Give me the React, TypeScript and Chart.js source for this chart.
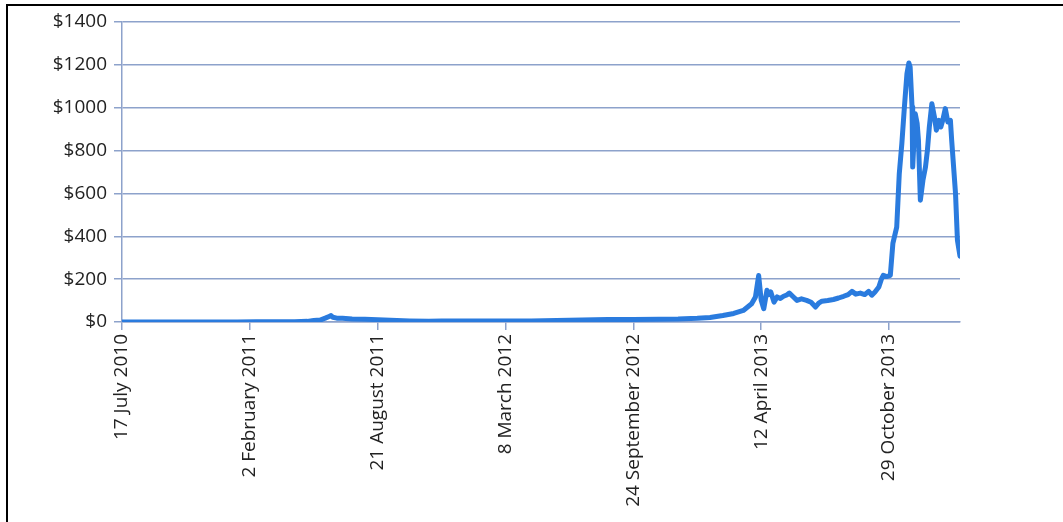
import React, { useEffect, useRef } from "react";
import { Chart, registerables } from "chart.js";

Chart.register(...registerables);

// Days since 17 July 2010 and price in USD
const days: number[] = [
  0, 60, 120, 180, 210, 240, 270, 290, 300, 310, 318, 324, 327, 330, 336, 345, 360, 380, 400, 420,
  450, 480, 500, 530, 560, 600, 640, 680, 720, 760, 800, 840, 870, 900, 920, 940, 957, 972, 985, 991,
  996, 1000, 1004, 1009, 1012, 1015, 1020, 1025, 1030, 1035, 1040, 1044, 1050, 1056, 1063, 1071, 1078,
  1085, 1090, 1095, 1104, 1113, 1121, 1129, 1136, 1142, 1148, 1155, 1162, 1168, 1173, 1178, 1184, 1188,
  1191, 1196, 1202, 1206, 1212, 1216, 1220, 1224, 1228, 1231, 1233, 1236, 1237, 1241, 1244,
  1246, 1249, 1253, 1257, 1260, 1263, 1267, 1271, 1274, 1278, 1281, 1284, 1288, 1292, 1296, 1298, 1304,
  1307, 1311,
];
const prices: number[] = [
  0.07, 0.1, 0.25, 0.3, 1, 0.9, 0.8, 3, 7, 9, 18, 26, 30, 22, 18, 17, 14, 13, 11, 8,
  5, 3, 4.5, 5, 5, 5, 5, 7, 9, 12, 12, 13, 14, 17, 21, 30, 40, 54, 85, 117,
  217, 101, 62, 148, 128, 140, 93, 117, 110, 120, 126, 135, 118, 101, 108, 101, 92,
  70, 88, 97, 100, 105, 112, 120, 128, 143, 130, 135, 128, 143, 125, 140, 163, 200,
  218, 212, 218, 367, 443, 692, 832, 1003, 1159, 1209, 1190, 1003, 723, 972, 926,
  848, 568, 661, 723, 801, 910, 1019, 957, 895, 941, 910, 941, 996, 933, 941, 848, 599,
  381, 307,
];

const tickDays: number[] = [0, 200, 400, 600, 800, 1000, 1200];
const tickLabels: string[] = [
  "17 July 2010",
  "2 February 2011",
  "21 August 2011",
  "8 March 2012",
  "24 September 2012",
  "12 April 2013",
  "29 October 2013",
];
const yTicks: number[] = [0, 200, 400, 600, 800, 1000, 1200, 1400];

const GRID = "#8DA2CB";
const FONT = { family: "'Open Sans', sans-serif", size: 19 };

export default function App() {
  const ref = useRef<HTMLCanvasElement>(null);
  useEffect(() => {
    if (!ref.current) return;
    const chart = new Chart(ref.current, {
      type: "line",
      data: {
        datasets: [
          {
            data: days.map((d, i) => ({ x: d, y: prices[i] })),
            borderColor: "#2A7BDE",
            borderWidth: 5,
            pointRadius: 0,
            tension: 0,
            fill: false,
            borderJoinStyle: "round",
            borderCapStyle: "round",
          },
        ],
      },
      options: {
        responsive: false,
        animation: false,
        layout: { padding: { left: 0, top: 22, right: 103, bottom: 0 } },
        plugins: { legend: { display: false }, tooltip: { enabled: false } },
        scales: {
          x: {
            type: "linear",
            min: 0,
            max: 1311,
            afterBuildTicks: (s: any) => {
              s.ticks = tickDays.map((v) => ({ value: v }));
            },
            afterFit: (s: any) => {
              s.height = 200;
            },
            grid: {
              display: true,
              drawOnChartArea: false,
              drawTicks: true,
              tickLength: 8,
              color: GRID,
              lineWidth: 1.5,
            },
            border: { display: true, color: GRID, width: 1.5 },
            ticks: {
              autoSkip: false,
              minRotation: 90,
              maxRotation: 90,
              padding: 4,
              color: "#222",
              font: FONT,
              callback: (v: any) => {
                const i = tickDays.indexOf(Number(v));
                return i >= 0 ? tickLabels[i] : "";
              },
            },
          },
          y: {
            min: 0,
            max: 1400,
            afterBuildTicks: (s: any) => {
              s.ticks = yTicks.map((v) => ({ value: v }));
            },
            afterFit: (s: any) => {
              s.width = 122;
            },
            grid: {
              color: GRID,
              lineWidth: 1.5,
              drawTicks: true,
              tickLength: 8,
            },
            border: { display: true, color: GRID, width: 1.5 },
            ticks: {
              padding: 7,
              color: "#222",
              font: FONT,
              callback: (v: any) => "$" + v,
            },
          },
        },
      },
    });
    return () => chart.destroy();
  }, []);
  return (
    <>
      <div
        style={{
          position: "fixed",
          left: 6,
          top: 4,
          width: 1057,
          height: 518,
          borderTop: "2px solid #000",
          borderLeft: "2px solid #000",
          boxSizing: "border-box",
        }}
      />
      <canvas
        ref={ref}
        width={1063}
        height={522}
        style={{ position: "fixed", left: 0, top: 0, width: 1063, height: 522 }}
      />
    </>
  );
}
